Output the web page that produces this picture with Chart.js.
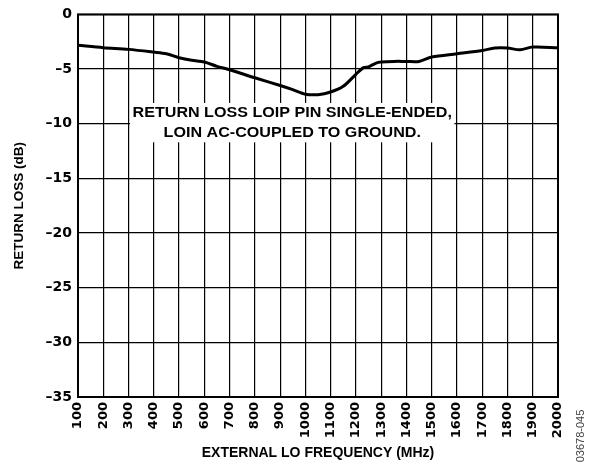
<!DOCTYPE html>
<html>
<head>
<meta charset="utf-8">
<script src="https://cdn.jsdelivr.net/npm/chart.js@4"></script>
<style>
  html, body { margin: 0; padding: 0; background: #fff; }
  #wrap { width: 589px; height: 465px; }
</style>
</head>
<body>
<div id="wrap"><canvas id="myChart" width="589" height="465"></canvas></div>
<script>
// frequency (MHz) and return loss (dB)
const freqs = [100, 200, 300, 400, 450, 500, 550, 600, 650, 700, 800, 900, 950, 1000, 1050, 1100, 1150, 1200, 1230, 1250, 1280, 1300, 1350, 1400, 1450, 1500, 1600, 1700, 1750, 1800, 1850, 1900, 2000];
const returnLoss = [-2.83, -3.05, -3.2, -3.45, -3.6, -3.96, -4.2, -4.36, -4.75, -5.06, -5.8, -6.5, -6.88, -7.3, -7.34, -7.1, -6.58, -5.48, -4.87, -4.8, -4.45, -4.36, -4.3, -4.3, -4.3, -3.9, -3.6, -3.3, -3.08, -3.08, -3.23, -2.99, -3.05];
const xTicks = [100, 2000, 100];   // min, max, step
const yTicks = [-35, 0, 5];
const noteLines = ['RETURN LOSS LOIP PIN SINGLE-ENDED,', 'LOIN AC-COUPLED TO GROUND.'];
const noteBox = [306, 1590, -8.1, -11.7]; // x1, x2, y1, y2 in data units
const figId = '03678-045';

const FONT = 'Liberation Sans, Arial, sans-serif';
const TICKFONT = 'DejaVu Sans, sans-serif';

const notePlugin = {
  id: 'note',
  beforeDatasetsDraw(chart) {
    const { ctx, scales: { x, y } } = chart;
    const x1 = x.getPixelForValue(noteBox[0]);
    const x2 = x.getPixelForValue(noteBox[1]);
    const y1 = y.getPixelForValue(noteBox[2]);
    const y2 = y.getPixelForValue(noteBox[3]);
    ctx.save();
    ctx.fillStyle = '#fff';
    ctx.fillRect(x1, y1, x2 - x1, y2 - y1);
    ctx.fillStyle = '#000';
    ctx.font = 'bold 14px ' + FONT;
    ctx.textAlign = 'center';
    ctx.textBaseline = 'middle';
    const cx = (x1 + x2) / 2;
    ctx.translate(cx, 0);
    ctx.scale(1.15, 1);
    ctx.fillText(noteLines[0], 0, y1 + 10);
    ctx.fillText(noteLines[1], 0, y1 + 30);
    ctx.restore();
  },
  afterDraw(chart) {
    const { ctx, chartArea } = chart;
    ctx.save();
    // frame
    ctx.strokeStyle = '#000';
    ctx.lineWidth = 2;
    ctx.strokeRect(chartArea.left, chartArea.top, chartArea.right - chartArea.left, chartArea.bottom - chartArea.top);
    // figure id
    ctx.translate(581, 436);
    ctx.rotate(-Math.PI / 2);
    ctx.fillStyle = '#444';
    ctx.font = '11px ' + FONT;
    ctx.textAlign = 'center';
    ctx.textBaseline = 'middle';
    ctx.fillText(figId, 0, 0);
    ctx.restore();
  }
};

const ctx = document.getElementById('myChart');
new Chart(ctx, {
  type: 'line',
  data: {
    datasets: [{
      data: freqs.map((f, i) => ({ x: f, y: returnLoss[i] })),
      borderColor: '#000',
      borderWidth: 3,
      pointRadius: 0,
      tension: 0.3,
      fill: false
    }]
  },
  options: {
    responsive: false,
    animation: false,
    layout: { padding: { left: 0, right: 31, top: 14, bottom: 0 } },
    plugins: { legend: { display: false }, tooltip: { enabled: false } },
    scales: {
      x: {
        type: 'linear',
        min: xTicks[0], max: xTicks[1],
        afterFit: (s) => { s.height = 68; },
        afterBuildTicks: (s) => {
          const t = [];
          for (let v = xTicks[0]; v <= xTicks[1]; v += xTicks[2]) t.push({ value: v });
          s.ticks = t;
        },
        grid: { color: '#000', lineWidth: 1.2, drawTicks: false },
        border: { display: false },
        ticks: {
          minRotation: 90, maxRotation: 90, padding: 5,
          color: '#000', font: { family: TICKFONT, size: 13, weight: 'bold' },
          callback: (v) => String(v)
        },
        title: {
          display: true, text: 'EXTERNAL LO FREQUENCY (MHz)', color: '#000',
          font: { family: FONT, size: 14, weight: 'bold' }, padding: { top: 2, bottom: 3 }
        }
      },
      y: {
        min: yTicks[0], max: yTicks[1],
        afterFit: (s) => { s.width = 78; },
        ticks: {
          stepSize: yTicks[2], padding: 6, color: '#000',
          font: { family: TICKFONT, size: 14, weight: 'bold' },
          callback: (v) => v < 0 ? '\u2013' + Math.abs(v) : String(v)
        },
        grid: { color: '#000', lineWidth: 1.2, drawTicks: false },
        border: { display: false },
        title: {
          display: true, text: 'RETURN LOSS (dB)', color: '#000',
          font: { family: FONT, size: 13.5, weight: 'bold' }, padding: { top: 11, bottom: 4 }
        }
      }
    }
  },
  plugins: [notePlugin]
});
</script>
</body>
</html>
